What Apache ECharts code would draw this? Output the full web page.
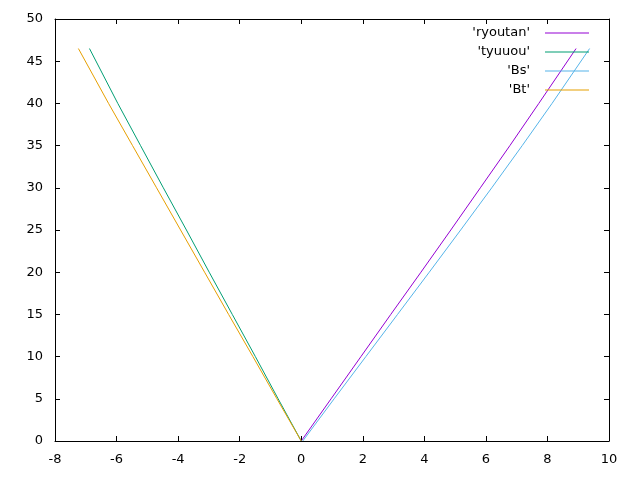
<!DOCTYPE html>
<html>
<head>
<meta charset="utf-8">
<script src="https://cdn.jsdelivr.net/npm/echarts@6/dist/echarts.min.js"></script>
<style>html,body{margin:0;padding:0;background:#fff}#c{width:640px;height:480px}</style>
</head>
<body>
<div id="c"></div>
<script>
// Series names
var seriesNames = ["'ryoutan'", "'tyuuou'", "'Bs'", "'Bt'"];
var seriesColors = ['#9400d3', '#009e73', '#56b4e9', '#e69f00'];

// y values (shared) and x values for each series
var yVals = [0, 5, 10, 15, 20, 25, 30, 35, 40, 46.5];
var ryoutanX = [0, 0.97, 1.94, 2.91, 3.89, 4.86, 5.82, 6.78, 7.72, 8.93];
var tyuuouX  = [0, -0.75, -1.49, -2.24, -2.99, -3.73, -4.48, -5.22, -5.96, -6.88];
var BsX      = [0.05, 1.07, 2.1, 3.13, 4.16, 5.18, 6.19, 7.18, 8.15, 9.37];
var BtX      = [0, -0.79, -1.57, -2.36, -3.14, -3.92, -4.7, -5.48, -6.26, -7.24];

var xTicks = { min: -8, max: 10, interval: 2 };
var yTicks = { min: 0, max: 50, interval: 5 };

function pairs(xs, ys) { return xs.map(function (x, i) { return [x, ys[i]]; }); }

var allX = [ryoutanX, tyuuouX, BsX, BtX];
var font = 'DejaVu Sans, sans-serif';
var fs = 13;

var axisCommon = {
  type: 'value',
  axisLine: { show: true, onZero: false, lineStyle: { color: '#000', width: 1 } },
  axisTick: { show: true, inside: true, length: 5, lineStyle: { color: '#000', width: 1 } },
  splitLine: { show: false },
  axisLabel: { color: '#000', fontSize: fs, fontFamily: font }
};

function ax(extra) { return Object.assign({}, JSON.parse(JSON.stringify(axisCommon)), extra); }

var legends = seriesNames.map(function (n, i) {
  return {
    data: [{ name: n, itemStyle: { color: seriesColors[i] } }],
    right: 51,
    top: 26.5 + i * 19,
    orient: 'vertical',
    align: 'right',
    icon: 'rect',
    itemWidth: 44,
    itemHeight: 1,
    itemGap: 0,
    padding: 0,
    selectedMode: false,
    itemStyle: { color: seriesColors[i] },
    textStyle: { color: '#000', fontSize: fs, fontFamily: font, padding: [0, 10, 0, 0] }
  };
});

var option = {
  animation: false,
  backgroundColor: '#fff',
  grid: { left: 55, right: 31, top: 19, bottom: 39, containLabel: false },
  legend: legends,
  xAxis: [
    ax({ position: 'bottom', min: xTicks.min, max: xTicks.max, interval: xTicks.interval,
         axisLabel: { color: '#000', fontSize: fs, fontFamily: font, margin: 12 } }),
    ax({ position: 'top', min: xTicks.min, max: xTicks.max, interval: xTicks.interval,
         axisLabel: { show: false } })
  ],
  yAxis: [
    ax({ position: 'left', min: yTicks.min, max: yTicks.max, interval: yTicks.interval,
         axisLabel: { color: '#000', fontSize: fs, fontFamily: font, margin: 12 } }),
    ax({ position: 'right', min: yTicks.min, max: yTicks.max, interval: yTicks.interval,
         axisLabel: { show: false } })
  ],
  series: seriesNames.map(function (n, i) {
    return {
      name: n,
      type: 'line',
      xAxisIndex: 0,
      yAxisIndex: 0,
      data: pairs(allX[i], yVals),
      symbol: 'none',
      color: seriesColors[i],
      lineStyle: { width: 1, color: seriesColors[i] },
      itemStyle: { color: seriesColors[i] }
    };
  })
};

var chart = echarts.init(document.getElementById('c'), null, { renderer: 'canvas' });
chart.setOption(option);
</script>
</body>
</html>
